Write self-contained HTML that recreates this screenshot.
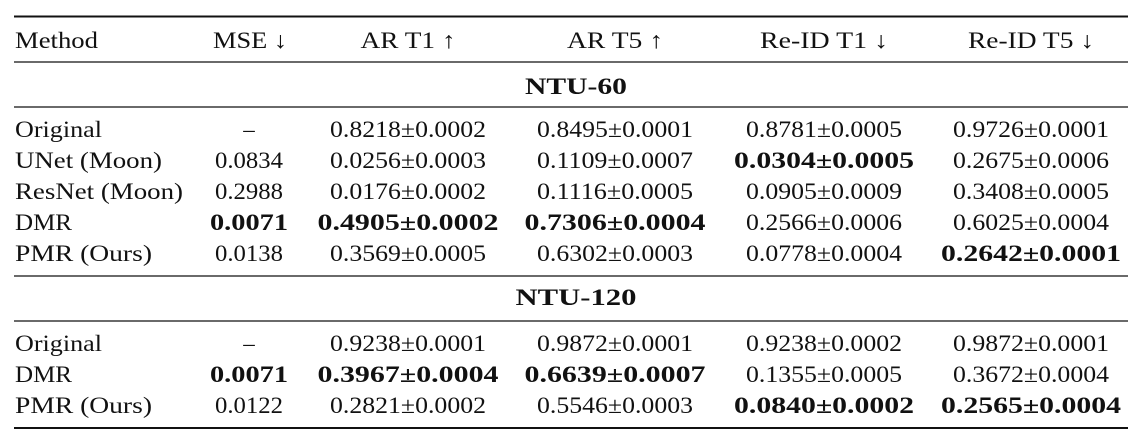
<!DOCTYPE html>
<html><head><meta charset="utf-8"><style>
html,body{margin:0;padding:0;background:#fff;width:1144px;height:443px;overflow:hidden}
svg text{font-family:"Liberation Serif",serif;font-size:23px;fill:#111}
.b{font-weight:bold}
</style></head><body>
<svg width="1144" height="443" xmlns="http://www.w3.org/2000/svg">
<g stroke="#111">
<line x1="14" x2="1128" y1="16.5" y2="16.5" stroke-width="2"/>
<line x1="14" x2="1128" y1="62" y2="62" stroke-width="1.2"/>
<line x1="14" x2="1128" y1="107" y2="107" stroke-width="1.2"/>
<line x1="14" x2="1128" y1="276" y2="276" stroke-width="1.2"/>
<line x1="14" x2="1128" y1="321" y2="321" stroke-width="1.2"/>
<line x1="14" x2="1128" y1="428" y2="428" stroke-width="2"/>
</g>
<!-- header -->
<text x="15" y="48" textLength="83" lengthAdjust="spacingAndGlyphs">Method</text>
<text x="250" y="48" text-anchor="middle" textLength="74" lengthAdjust="spacingAndGlyphs">MSE ↓</text>
<text x="408" y="48" text-anchor="middle" textLength="95" lengthAdjust="spacingAndGlyphs">AR T1 ↑</text>
<text x="615" y="48" text-anchor="middle" textLength="96" lengthAdjust="spacingAndGlyphs">AR T5 ↑</text>
<text x="824" y="48" text-anchor="middle" textLength="128" lengthAdjust="spacingAndGlyphs">Re-ID T1 ↓</text>
<text x="1031" y="48" text-anchor="middle" textLength="126" lengthAdjust="spacingAndGlyphs">Re-ID T5 ↓</text>
<text class="b" x="576" y="94" text-anchor="middle" textLength="102" lengthAdjust="spacingAndGlyphs">NTU-60</text>
<text class="b" x="576" y="305" text-anchor="middle" textLength="121" lengthAdjust="spacingAndGlyphs">NTU-120</text>
<!-- rows group 1 -->
<g>
<text x="15" y="137" textLength="87" lengthAdjust="spacingAndGlyphs">Original</text>
<text x="249" y="137" text-anchor="middle">–</text>
<text x="408" y="137" text-anchor="middle" textLength="156" lengthAdjust="spacingAndGlyphs">0.8218±0.0002</text>
<text x="615" y="137" text-anchor="middle" textLength="156" lengthAdjust="spacingAndGlyphs">0.8495±0.0001</text>
<text x="824" y="137" text-anchor="middle" textLength="156" lengthAdjust="spacingAndGlyphs">0.8781±0.0005</text>
<text x="1031" y="137" text-anchor="middle" textLength="156" lengthAdjust="spacingAndGlyphs">0.9726±0.0001</text>

<text x="15" y="168" textLength="147" lengthAdjust="spacingAndGlyphs">UNet (Moon)</text>
<text x="249" y="168" text-anchor="middle" textLength="68" lengthAdjust="spacingAndGlyphs">0.0834</text>
<text x="408" y="168" text-anchor="middle" textLength="156" lengthAdjust="spacingAndGlyphs">0.0256±0.0003</text>
<text x="615" y="168" text-anchor="middle" textLength="156" lengthAdjust="spacingAndGlyphs">0.1109±0.0007</text>
<text class="b" x="824" y="168" text-anchor="middle" textLength="180" lengthAdjust="spacingAndGlyphs">0.0304±0.0005</text>
<text x="1031" y="168" text-anchor="middle" textLength="156" lengthAdjust="spacingAndGlyphs">0.2675±0.0006</text>

<text x="15" y="199" textLength="168" lengthAdjust="spacingAndGlyphs">ResNet (Moon)</text>
<text x="249" y="199" text-anchor="middle" textLength="68" lengthAdjust="spacingAndGlyphs">0.2988</text>
<text x="408" y="199" text-anchor="middle" textLength="156" lengthAdjust="spacingAndGlyphs">0.0176±0.0002</text>
<text x="615" y="199" text-anchor="middle" textLength="156" lengthAdjust="spacingAndGlyphs">0.1116±0.0005</text>
<text x="824" y="199" text-anchor="middle" textLength="156" lengthAdjust="spacingAndGlyphs">0.0905±0.0009</text>
<text x="1031" y="199" text-anchor="middle" textLength="156" lengthAdjust="spacingAndGlyphs">0.3408±0.0005</text>

<text x="15" y="230" textLength="57" lengthAdjust="spacingAndGlyphs">DMR</text>
<text class="b" x="249" y="230" text-anchor="middle" textLength="78" lengthAdjust="spacingAndGlyphs">0.0071</text>
<text class="b" x="408" y="230" text-anchor="middle" textLength="181" lengthAdjust="spacingAndGlyphs">0.4905±0.0002</text>
<text class="b" x="615" y="230" text-anchor="middle" textLength="181" lengthAdjust="spacingAndGlyphs">0.7306±0.0004</text>
<text x="824" y="230" text-anchor="middle" textLength="156" lengthAdjust="spacingAndGlyphs">0.2566±0.0006</text>
<text x="1031" y="230" text-anchor="middle" textLength="156" lengthAdjust="spacingAndGlyphs">0.6025±0.0004</text>

<text x="15" y="261" textLength="137" lengthAdjust="spacingAndGlyphs">PMR (Ours)</text>
<text x="249" y="261" text-anchor="middle" textLength="68" lengthAdjust="spacingAndGlyphs">0.0138</text>
<text x="408" y="261" text-anchor="middle" textLength="156" lengthAdjust="spacingAndGlyphs">0.3569±0.0005</text>
<text x="615" y="261" text-anchor="middle" textLength="156" lengthAdjust="spacingAndGlyphs">0.6302±0.0003</text>
<text x="824" y="261" text-anchor="middle" textLength="156" lengthAdjust="spacingAndGlyphs">0.0778±0.0004</text>
<text class="b" x="1031" y="261" text-anchor="middle" textLength="180" lengthAdjust="spacingAndGlyphs">0.2642±0.0001</text>
</g>
<!-- group 2 -->
<g>
<text x="15" y="351" textLength="87" lengthAdjust="spacingAndGlyphs">Original</text>
<text x="249" y="351" text-anchor="middle">–</text>
<text x="408" y="351" text-anchor="middle" textLength="156" lengthAdjust="spacingAndGlyphs">0.9238±0.0001</text>
<text x="615" y="351" text-anchor="middle" textLength="156" lengthAdjust="spacingAndGlyphs">0.9872±0.0001</text>
<text x="824" y="351" text-anchor="middle" textLength="156" lengthAdjust="spacingAndGlyphs">0.9238±0.0002</text>
<text x="1031" y="351" text-anchor="middle" textLength="156" lengthAdjust="spacingAndGlyphs">0.9872±0.0001</text>

<text x="15" y="382" textLength="57" lengthAdjust="spacingAndGlyphs">DMR</text>
<text class="b" x="249" y="382" text-anchor="middle" textLength="78" lengthAdjust="spacingAndGlyphs">0.0071</text>
<text class="b" x="408" y="382" text-anchor="middle" textLength="181" lengthAdjust="spacingAndGlyphs">0.3967±0.0004</text>
<text class="b" x="615" y="382" text-anchor="middle" textLength="181" lengthAdjust="spacingAndGlyphs">0.6639±0.0007</text>
<text x="824" y="382" text-anchor="middle" textLength="156" lengthAdjust="spacingAndGlyphs">0.1355±0.0005</text>
<text x="1031" y="382" text-anchor="middle" textLength="156" lengthAdjust="spacingAndGlyphs">0.3672±0.0004</text>

<text x="15" y="413" textLength="137" lengthAdjust="spacingAndGlyphs">PMR (Ours)</text>
<text x="249" y="413" text-anchor="middle" textLength="68" lengthAdjust="spacingAndGlyphs">0.0122</text>
<text x="408" y="413" text-anchor="middle" textLength="156" lengthAdjust="spacingAndGlyphs">0.2821±0.0002</text>
<text x="615" y="413" text-anchor="middle" textLength="156" lengthAdjust="spacingAndGlyphs">0.5546±0.0003</text>
<text class="b" x="824" y="413" text-anchor="middle" textLength="180" lengthAdjust="spacingAndGlyphs">0.0840±0.0002</text>
<text class="b" x="1031" y="413" text-anchor="middle" textLength="180" lengthAdjust="spacingAndGlyphs">0.2565±0.0004</text>
</g>
</svg>
</body></html>
